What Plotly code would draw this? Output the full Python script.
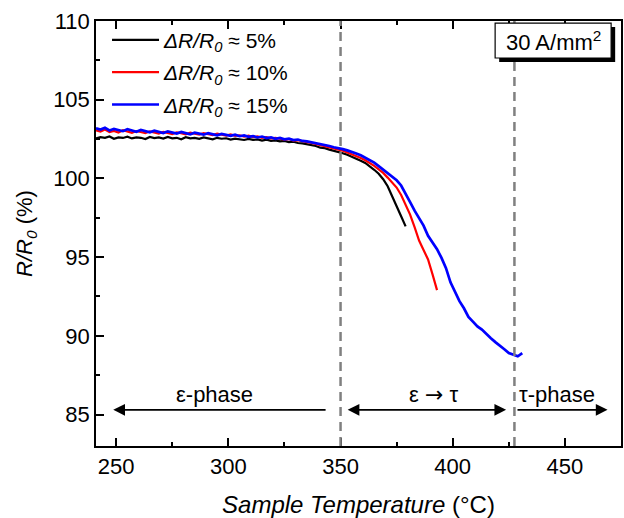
import plotly.graph_objects as go

# ---------------- data ----------------
T_5 = list(range(241, 381, 2))
R_5 = [102.55, 102.62, 102.58, 102.66, 102.52, 102.60, 102.57, 102.65, 102.54, 102.61,
       102.58, 102.50, 102.63, 102.56, 102.60, 102.53, 102.64, 102.55, 102.58, 102.49,
       102.62, 102.55, 102.57, 102.51, 102.60, 102.54, 102.48, 102.58, 102.52, 102.55,
       102.47, 102.53, 102.49, 102.44, 102.51, 102.45, 102.48, 102.40, 102.46, 102.39,
       102.42, 102.35, 102.38, 102.30, 102.33, 102.25, 102.22, 102.18, 102.10, 102.06,
       101.95, 101.92, 101.83, 101.76, 101.68, 101.60, 101.50, 101.38, 101.28, 101.12,
       100.98, 100.78, 100.55, 100.30, 99.95, 99.50, 98.90, 98.25, 97.60, 96.95]

T_10 = list(range(241, 395, 2))
R_10 = [103.05, 102.98, 103.10, 102.95, 103.02, 102.92, 103.06, 102.97, 102.90, 103.01,
        102.93, 102.88, 102.99, 102.90, 102.85, 102.96, 102.87, 102.82, 102.93, 102.85,
        102.80, 102.90, 102.83, 102.78, 102.88, 102.80, 102.75, 102.84, 102.76, 102.72,
        102.80, 102.70, 102.74, 102.66, 102.71, 102.62, 102.67, 102.58, 102.63, 102.54,
        102.57, 102.50, 102.46, 102.50, 102.40, 102.43, 102.34, 102.30, 102.25, 102.18,
        102.12, 102.05, 101.98, 101.90, 101.84, 101.76, 101.65, 101.55, 101.42, 101.30,
        101.15, 100.98, 100.80, 100.58, 100.35, 100.05, 99.75, 99.42, 98.95, 98.35,
        97.70, 96.90, 96.05, 95.45, 94.85, 93.90, 92.90]

T_15 = list(range(241, 433, 2))
R_15 = [103.18, 103.10, 103.22, 103.05, 103.15, 103.08, 103.00, 103.12, 103.02, 102.96,
        103.08, 102.98, 102.93, 103.03, 102.95, 102.88, 102.99, 102.90, 102.85, 102.95,
        102.86, 102.80, 102.90, 102.82, 102.78, 102.88, 102.79, 102.74, 102.83, 102.75,
        102.70, 102.78, 102.68, 102.73, 102.64, 102.69, 102.60, 102.66, 102.56, 102.61,
        102.52, 102.57, 102.48, 102.52, 102.43, 102.47, 102.38, 102.35, 102.30, 102.24,
        102.18, 102.12, 102.06, 101.98, 101.93, 101.86, 101.78, 101.70, 101.58, 101.47,
        101.33, 101.18, 101.00, 100.78, 100.55, 100.32, 100.10, 99.88, 99.55, 99.05,
        98.50, 97.95, 97.45, 97.00, 96.35, 95.95, 95.50, 94.95, 94.30, 93.40,
        92.80, 92.20, 91.75, 91.20, 90.90, 90.60, 90.40, 90.10, 89.85, 89.60,
        89.40, 89.15, 88.90, 88.80, 88.70, 88.90]

series_names = ["<i>ΔR/R<sub>0</sub></i> ≈ 5%",
                "<i>ΔR/R<sub>0</sub></i> ≈ 10%",
                "<i>ΔR/R<sub>0</sub></i> ≈ 15%"]
series_colors = ["#000000", "#ff0000", "#0000ff"]
series_widths = [2.2, 2.2, 2.7]

phase_bounds = [350, 427.5]
x_ticks = [250, 300, 350, 400, 450]
y_ticks = [85, 90, 95, 100, 105, 110]

FONT = "Liberation Sans, Arial, sans-serif"

fig = go.Figure()
for i, (T, R, name, col, w) in enumerate(zip([T_5, T_10, T_15], [R_5, R_10, R_15],
                                             series_names, series_colors, series_widths)):
    fig.add_trace(go.Scatter(x=T, y=R, mode="lines", name=name, legendgroup=f"g{i}",
                             line=dict(color=col, width=w)))

# dashed phase boundaries
for xb in phase_bounds:
    fig.add_shape(type="line", xref="x", yref="paper", x0=xb, x1=xb, y0=0, y1=1,
                  line=dict(color="#808080", width=2.5, dash="9px,6px"), layer="above")

# current-density box with shadow
fig.add_shape(type="rect", xref="x", yref="y", x0=420.7, x1=472.4, y0=107.40, y1=109.62,
              fillcolor="black", line=dict(width=0), layer="above")
fig.add_shape(type="rect", xref="x", yref="y", x0=418.9, x1=470.6, y0=107.65, y1=109.87,
              fillcolor="white", line=dict(color="black", width=1.2), layer="above")
fig.add_annotation(x=444.7, y=108.76, xref="x", yref="y", text="30 A/mm<sup>2</sup>",
                   showarrow=False, font=dict(size=22, family=FONT, color="black"))

# phase arrows
arrow_y = 85.3
fig.add_annotation(x=248.7, y=arrow_y, ax=344.0, ay=arrow_y, axref="x", ayref="y",
                   xref="x", yref="y", text="", showarrow=True, arrowhead=2,
                   arrowsize=1.3, arrowwidth=1.8, arrowcolor="black")
fig.add_annotation(x=423.8, y=arrow_y, ax=352.5, ay=arrow_y, axref="x", ayref="y",
                   xref="x", yref="y", text="", showarrow=True, arrowhead=2,
                   arrowside="end+start", arrowsize=1.3, arrowwidth=1.8, arrowcolor="black")
fig.add_annotation(x=469.0, y=arrow_y, ax=428.2, ay=arrow_y, axref="x", ayref="y",
                   xref="x", yref="y", text="", showarrow=True, arrowhead=2,
                   arrowsize=1.3, arrowwidth=1.8, arrowcolor="black")

phase_labels = ["ε-phase",
                "ε <span style='font-family:DejaVu Sans'>→</span> τ",
                "τ-phase"]
for txt, xx in zip(phase_labels, [293.6, 391.3, 446.3]):
    fig.add_annotation(x=xx, y=86.3, xref="x", yref="y", text=txt, showarrow=False,
                       font=dict(size=22, family=FONT, color="black"))

axis_common = dict(showgrid=False, zeroline=False, showline=True, linecolor="black",
                   linewidth=1.5, ticks="inside", ticklen=8, tickwidth=1.5,
                   tickcolor="black", tickfont=dict(size=22, family=FONT, color="black"))

fig.update_xaxes(range=[241, 475], tickvals=x_ticks, mirror="ticks",
                 minor=dict(dtick=25, tick0=250, ticks="inside", ticklen=4,
                            tickwidth=1.5, tickcolor="black"),
                 title=dict(text="<i>Sample Temperature</i> (°C)",
                            font=dict(size=24, family=FONT, color="black"), standoff=18),
                 **axis_common)
fig.update_yaxes(range=[83, 110], tickvals=y_ticks, mirror=True,
                 minor=dict(dtick=2.5, tick0=85, ticks="inside", ticklen=4,
                            tickwidth=1.5, tickcolor="black"),
                 title=dict(text="<i>R/R<sub>0</sub></i> (%)",
                            font=dict(size=22, family=FONT, color="black"), standoff=14),
                 **axis_common)

fig.update_layout(
    width=624, height=518,
    margin=dict(l=96, r=1, t=21, b=72),
    paper_bgcolor="white", plot_bgcolor="white",
    font=dict(family=FONT, color="black"),
    legend=dict(x=0.021, y=1.003, xanchor="left", yanchor="top",
                bgcolor="rgba(0,0,0,0)", font=dict(size=21, family=FONT, color="black"),
                tracegroupgap=2, itemwidth=47),
    showlegend=True,
)

fig.write_html("out.html")
